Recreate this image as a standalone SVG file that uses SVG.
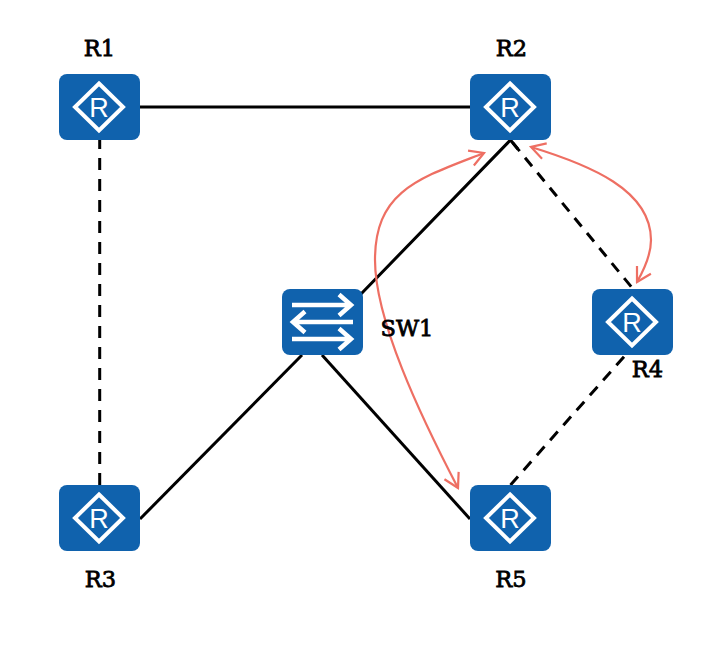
<svg xmlns="http://www.w3.org/2000/svg" width="717" height="660" viewBox="0 0 717 660">
<style>
.box{fill:#1062ad}
.gl{fill:none;stroke:#fff;stroke-width:4;stroke-linecap:butt}
.sw{stroke-width:4.500}
.rl{font-family:"Liberation Sans",Arial,sans-serif;font-size:27px;fill:#fff;text-anchor:middle}
.lb{font-family:"DejaVu Serif",serif;font-size:22.500px;fill:#000;stroke:#000;stroke-width:.8;text-anchor:middle}
.ln{fill:none;stroke:#000;stroke-width:3}
.da{stroke-dasharray:12 9}
.db{stroke-dasharray:11 8.500}
.dc{stroke-dasharray:11.500 8.500}
.cu{fill:none;stroke:#ee6f63;stroke-width:2.200}
</style>
<defs>
<g id="router">
<rect class="box" width="81" height="66" rx="8"/>
<path class="gl" d="M40 9.500L64 33L40 56.500L16 33Z"/>
<text class="rl" x="40" y="43">R</text>
</g>
<marker id="head" viewBox="0 0 20 20" refX="18" refY="10" markerWidth="20" markerHeight="20" orient="auto-start-reverse" markerUnits="userSpaceOnUse">
<path d="M4 2L18 10L4 18" fill="none" stroke="#ee6f63" stroke-width="2.200"/>
</marker>
</defs>
<g id="connectors">
<path class="ln" d="M140 107H470"/>
<path class="ln da" stroke-dashoffset="3" d="M99.700 140V485"/>
<path class="ln" d="M518 149.300L510.500 140L361 294"/>
<path class="ln db" stroke-dashoffset="-3.400" d="M510.500 140L633.300 289.300"/>
<path class="ln" d="M302 355L140 519"/>
<path class="ln" d="M322 355L470 519"/>
<path class="ln dc" d="M624 356.700L510.500 485"/>
<path class="cu" marker-start="url(#head)" marker-end="url(#head)" d="M484 153C420 178 375 190 375 260C375 320 420 415 458 488"/>
<path class="cu" marker-start="url(#head)" marker-end="url(#head)" d="M531 147C590 165 651 190 651 240C651 255 645 268 637 282"/>
</g>
<g id="R1"><use href="#router" x="59" y="74"/><text class="lb" x="99.500" y="56">R1</text></g>
<g id="R2"><use href="#router" x="470" y="74"/><text class="lb" x="511.500" y="56">R2</text></g>
<g id="R3"><use href="#router" x="59" y="485"/><text class="lb" x="100.500" y="587">R3</text></g>
<g id="R4"><use href="#router" x="592" y="289"/><text class="lb" x="647.500" y="377">R4</text></g>
<g id="R5"><use href="#router" x="470" y="485"/><text class="lb" x="511" y="587">R5</text></g>
<g id="SW1">
<rect class="box" x="282" y="289" width="81" height="66" rx="8"/>
<path class="gl sw" d="M292 305H351M339 294.500L351 305L339 315.500M353 322H293M305 311.500L293 322L305 332.500M292 339H351M339 328.500L351 339L339 349.500"/>
<text class="lb" x="407" y="336">SW1</text>
</g>
</svg>
